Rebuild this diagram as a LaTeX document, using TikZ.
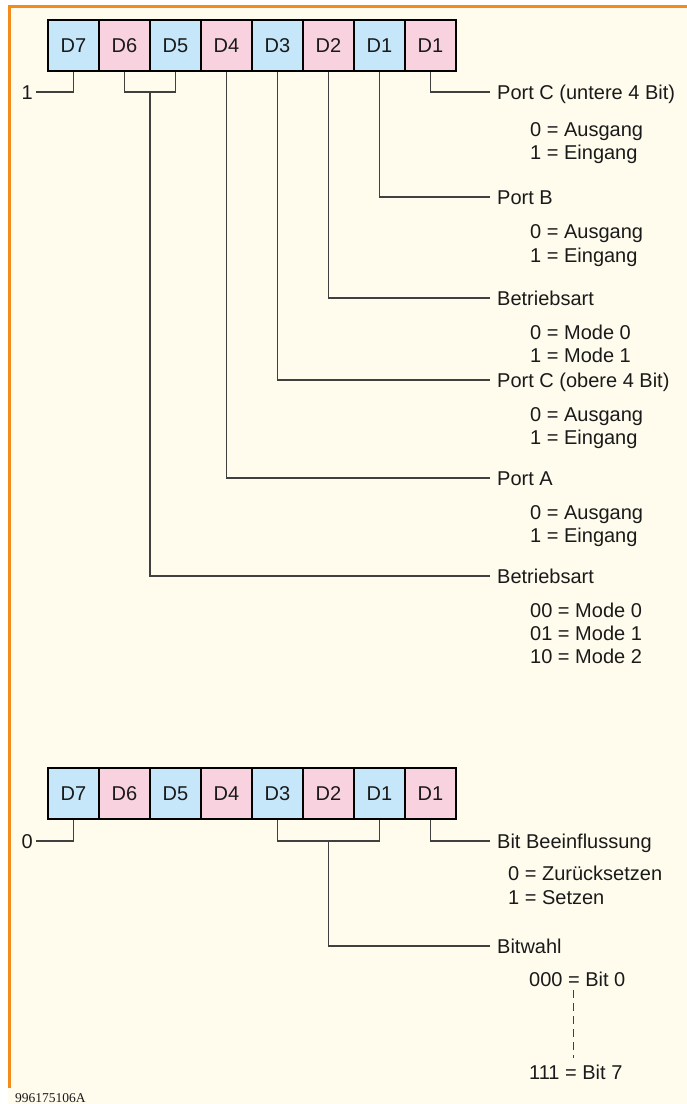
\documentclass[tikz,border=0pt]{standalone}
\usepackage{fontspec}
\setmainfont{Liberation Sans}
\newfontfamily\footfont{Liberation Serif}
\definecolor{cream}{HTML}{FFFCEE}
\definecolor{frameorange}{HTML}{F28A1C}
\definecolor{cellblue}{HTML}{C6E6FA}
\definecolor{cellpink}{HTML}{F9D2DF}
\definecolor{ink}{HTML}{1A1A1A}
\begin{document}
\begin{tikzpicture}[x=1pt,y=-1pt,
  every node/.style={text=ink},
  cell/.style={draw=black, line width=1.6pt, minimum width=51pt, minimum height=51pt, inner sep=0pt, text height=14.3pt, text depth=0pt, font=\fontsize{20}{23}\selectfont},
  conn/.style={draw=black!75, line width=1.1pt},
  lab/.style={anchor=west, inner xsep=7pt, inner ysep=0pt, text height=14.3pt, text depth=0pt, font=\fontsize{20}{23}\selectfont},
  val/.style={anchor=west, inner sep=0pt, text height=14.3pt, text depth=0pt, font=\fontsize{20}{23}\selectfont},
  bitval/.style={anchor=east, inner xsep=3pt, inner ysep=0pt, text height=14.3pt, text depth=0pt, font=\fontsize{20}{23}\selectfont},
  dashline/.style={draw=black!75, line width=0.9pt, dash pattern=on 8pt off 5pt}
]
\useasboundingbox (0,0) rectangle (687,1104);
\fill[white] (0,0) rectangle (687,1104);
\fill[cream] (8,5) rectangle (687,1104);
\fill[frameorange] (8,5) rectangle (687,7.5);
\fill[frameorange] (8,5) rectangle (11,1088);

% ---- first register ----
\foreach \i/\t/\c in {0/D7/cellblue,1/D6/cellpink,2/D5/cellblue,3/D4/cellpink,4/D3/cellblue,5/D2/cellpink,6/D1/cellblue,7/D1/cellpink}{
  \node[cell,fill=\c] (a\i) at ({73.5+51*\i},45.5) {\t};
}
\node[bitval] (one) at (36,92) {1};
\coordinate (j1) at (150,92);

\node[lab] (lpcu) at (490,92) {Port C (untere 4 Bit)};
\node[val] (v1a) at (530,129) {0 = Ausgang};
\node[val] (v1b) at (530,152) {1 = Eingang};

\node[lab] (lpb) at (490,197) {Port B};
\node[val] (v2a) at (530,231) {0 = Ausgang};
\node[val] (v2b) at (530,255) {1 = Eingang};

\node[lab] (lbe) at (490,298) {Betriebsart};
\node[val] (v3a) at (530,332) {0 = Mode 0};
\node[val] (v3b) at (530,355) {1 = Mode 1};

\node[lab] (lpco) at (490,380) {Port C (obere 4 Bit)};
\node[val] (v4a) at (530,414) {0 = Ausgang};
\node[val] (v4b) at (530,437) {1 = Eingang};

\node[lab] (lpa) at (490,478) {Port A};
\node[val] (v5a) at (530,512) {0 = Ausgang};
\node[val] (v5b) at (530,535) {1 = Eingang};

\node[lab] (lba) at (490,576) {Betriebsart};
\node[val] (v6a) at (530,610) {00 = Mode 0};
\node[val] (v6b) at (530,633) {01 = Mode 1};
\node[val] (v6c) at (530,656) {10 = Mode 2};

\draw[conn] (a0.south) |- (one.east);
\draw[conn] (a1.south) |- (j1) -| (a2.south);
\draw[conn] (j1) |- (lba.west);
\draw[conn] (a3.south) |- (lpa.west);
\draw[conn] (a4.south) |- (lpco.west);
\draw[conn] (a5.south) |- (lbe.west);
\draw[conn] (a6.south) |- (lpb.west);
\draw[conn] (a7.south) |- (lpcu.west);

% ---- second register ----
\foreach \i/\t/\c in {0/D7/cellblue,1/D6/cellpink,2/D5/cellblue,3/D4/cellpink,4/D3/cellblue,5/D2/cellpink,6/D1/cellblue,7/D1/cellpink}{
  \node[cell,fill=\c] (b\i) at ({73.5+51*\i},793.5) {\t};
}
\node[bitval] (zero) at (36,841) {0};
\coordinate (j2) at (328.5,841);

\node[lab] (lbb) at (490,841) {Bit Beeinflussung};
\node[val] (w1a) at (508,873) {0 = Zurücksetzen};
\node[val] (w1b) at (508,897) {1 = Setzen};

\node[lab] (lbw) at (490,946) {Bitwahl};
\node[val] (w2a) at (529,979) {000 = Bit 0};
\node[val] (w2b) at (529,1072) {111 = Bit 7};
\coordinate (d1) at (573,990);
\coordinate (d2) at (573,1058);

\draw[conn] (b0.south) |- (zero.east);
\draw[conn] (b4.south) |- (j2) -| (b6.south);
\draw[conn] (j2) |- (lbw.west);
\draw[conn] (b7.south) |- (lbb.west);
\draw[dashline] (d1) -- (d2);

\node[anchor=base west, inner sep=0pt, font=\footfont\fontsize{13.5}{15}\selectfont] (code) at (15,1102) {996175106A};
\end{tikzpicture}
\end{document}
